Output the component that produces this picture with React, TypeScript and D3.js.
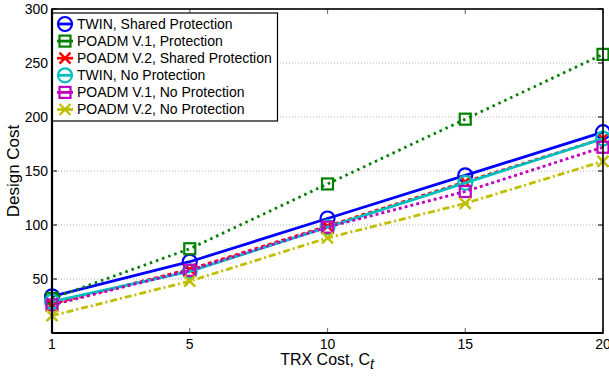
import React from "react";
import * as d3 from "d3";

const categories = ["1", "5", "10", "15", "20"];
const yTicks = [50, 100, 150, 200, 250, 300];

const seriesNames = [
  "TWIN, Shared Protection",
  "POADM V.1, Protection",
  "POADM V.2, Shared Protection",
  "TWIN, No Protection",
  "POADM V.1, No Protection",
  "POADM V.2, No Protection",
];
const twinShared = [34, 66, 106, 146, 186];
const poadm1Prot = [32, 78, 138, 198, 258];
const poadm2Shared = [27, 59, 99, 140, 180];
const twinNo = [29, 57, 98, 139, 180];
const poadm1No = [26, 58, 98, 131, 172];
const poadm2No = [16, 48, 88, 120, 159];

const seriesValues = [twinShared, poadm1Prot, poadm2Shared, twinNo, poadm1No, poadm2No];
const colors = ["#0000ff", "#008000", "#ff0000", "#00bfbf", "#bf00bf", "#bfbf00"];
const dashes = ["", "2.5,4", "4,3", "", "3,3", "7,3,2,3"];
const markers = ["circle", "square", "x", "circle", "square", "x"];

const W = 609, H = 377;
const M = { left: 52, right: 603, top: 9, bottom: 333 };
const FONT = "'Liberation Sans', Arial, Helvetica, sans-serif";

function Marker({ type, x, y, color }: { type: string; x: number; y: number; color: string }) {
  if (type === "circle")
    return <circle cx={x} cy={y} r={7} fill="none" stroke={color} strokeWidth={2.2} />;
  if (type === "square")
    return (
      <rect x={x - 5.5} y={y - 5.5} width={11} height={11} fill="none" stroke={color} strokeWidth={2.2} />
    );
  const s = 5.5;
  return (
    <g stroke={color} strokeWidth={2.4}>
      <line x1={x - s} y1={y - s} x2={x + s} y2={y + s} />
      <line x1={x - s} y1={y + s} x2={x + s} y2={y - s} />
    </g>
  );
}

export default function App() {
  const x = d3.scalePoint<string>().domain(categories).range([M.left, M.right]);
  const y = d3.scaleLinear().domain([0, 300]).range([M.bottom, M.top]);
  const line = d3
    .line<number>()
    .x((_, i) => x(categories[i]) as number)
    .y((d) => y(d));

  const legendY0 = 24;
  const legendStep = 17.1;

  return (
    <svg width={W} height={H} style={{ position: "absolute", left: 0, top: 0, background: "#fff" }} fontFamily={FONT}>
      <rect x={0} y={0} width={W} height={H} fill="#fff" />
      {/* grid */}
      {yTicks.map((t) => (
        <line key={"g" + t} x1={M.left} x2={M.right} y1={y(t)} y2={y(t)} stroke="#b0b0b0" strokeWidth={1} strokeDasharray="1,2" />
      ))}
      {/* ticks */}
      {yTicks.map((t) => (
        <g key={"t" + t} stroke="#000" strokeWidth={1}>
          <line x1={M.left} x2={M.left + 5} y1={y(t)} y2={y(t)} />
          <line x1={M.right} x2={M.right - 5} y1={y(t)} y2={y(t)} />
        </g>
      ))}
      {categories.map((c) => (
        <g key={"xt" + c} stroke="#777" strokeWidth={1.2}>
          <line x1={x(c)} x2={x(c)} y1={M.bottom} y2={M.bottom - 5} />
          <line x1={x(c)} x2={x(c)} y1={M.top} y2={M.top + 5} />
        </g>
      ))}
      {/* series */}
      {seriesValues.map((vals, si) => (
        <g key={"s" + si}>
          <path d={line(vals) || ""} fill="none" stroke={colors[si]} strokeWidth={2.8} strokeDasharray={dashes[si]} />
          {vals.map((v, i) => (
            <Marker key={i} type={markers[si]} x={x(categories[i]) as number} y={y(v)} color={colors[si]} />
          ))}
        </g>
      ))}
      {/* frame */}
      <rect x={M.left} y={M.top} width={M.right - M.left} height={M.bottom - M.top} fill="none" stroke="#000" strokeWidth={1.6} />
      <line x1={M.left} x2={M.left} y1={M.top} y2={M.bottom} stroke="#000" strokeWidth={2.2} />
      <line x1={M.left} x2={M.right} y1={M.bottom} y2={M.bottom} stroke="#000" strokeWidth={2.2} />
      {/* tick labels */}
      {yTicks.map((t) => (
        <text key={"yl" + t} x={M.left - 4} y={y(t)} dy="0.35em" textAnchor="end" fontSize={14} fill="#000">
          {t}
        </text>
      ))}
      {categories.map((c) => (
        <text key={"xl" + c} x={x(c)} y={M.bottom + 16} textAnchor="middle" fontSize={14} fill="#000">
          {c}
        </text>
      ))}
      {/* axis labels */}
      <text x={327} y={365} textAnchor="middle" fontSize={16} fill="#000">
        TRX Cost, C
        <tspan fontStyle="italic" fontSize={14} dy={4}>t</tspan>
      </text>
      <text transform={`translate(19,${(M.top + M.bottom) / 2}) rotate(-90)`} textAnchor="middle" fontSize={17} fill="#000">
        Design Cost
      </text>
      {/* legend */}
      <rect x={M.left + 0.5} y={13} width={225} height={108} fill="#fff" stroke="#000" strokeWidth={1.2} />
      {seriesNames.map((name, si) => {
        const ly = legendY0 + si * legendStep;
        return (
          <g key={"lg" + si}>
            <line x1={57} x2={73} y1={ly} y2={ly} stroke={colors[si]} strokeWidth={2.8} />
            <Marker type={markers[si]} x={65} y={ly} color={colors[si]} />
            <text x={77} y={ly} dy="0.35em" fontSize={14} fill="#000">
              {name}
            </text>
          </g>
        );
      })}
    </svg>
  );
}
